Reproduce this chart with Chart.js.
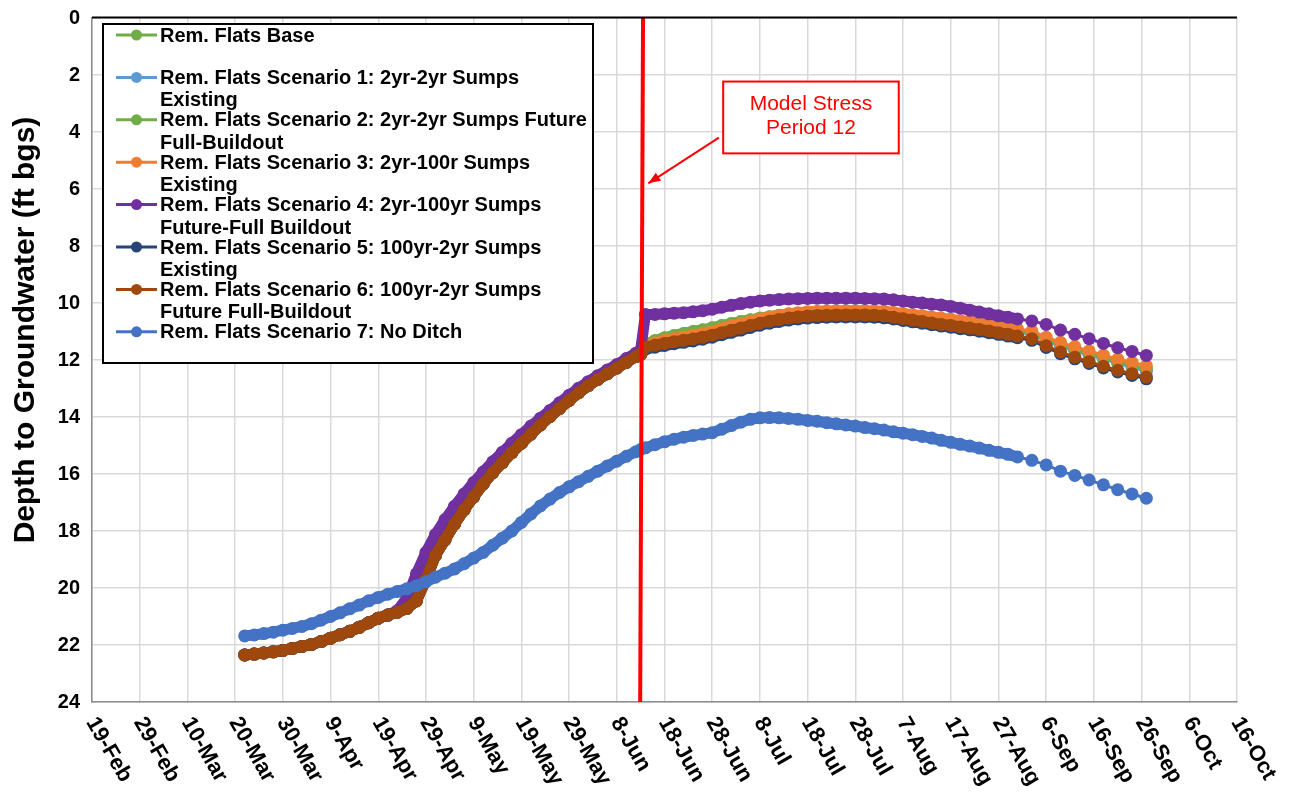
<!DOCTYPE html>
<html>
<head>
<meta charset="utf-8">
<script src="https://cdn.jsdelivr.net/npm/chart.js@4.4.1/dist/chart.umd.min.js"></script>
<style>
html,body{margin:0;padding:0;background:#fff;}
#wrap{width:1307px;height:796px;}
</style>
</head>
<body>
<div id="wrap"><canvas id="c" width="1307" height="796"></canvas></div>
<script>
// ---- DATA (x = days after 19-Feb-2020, y = depth to groundwater, ft bgs) ----
const xTickLabels = ['19-Feb','29-Feb','10-Mar','20-Mar','30-Mar','9-Apr','19-Apr','29-Apr','9-May','19-May','29-May','8-Jun','18-Jun','28-Jun','8-Jul','18-Jul','28-Jul','7-Aug','17-Aug','27-Aug','6-Sep','16-Sep','26-Sep','6-Oct','16-Oct'];
const yTickValues = [0,2,4,6,8,10,12,14,16,18,20,22,24];

const preDays = [32,34,36,38,40,42,44,46,48,50,52,54,56,58,60,62,64,66,68,70,72,74,76,78,80,82,84,86,88,90,92,94,96,98,100,102,104,106,108,110,112,114,115];
const postDays = [116,118,120,122,124,126,128,130,132,134,136,138,140,142,144,146,148,150,152,154,156,158,160,162,164,166,168,170,172,174,176,178,180,182,184,186,188,190,192,194,197,200,203,206,209,212,215,218,221];

// shared by Base, Scenarios 1,2,3,5,6 before the stress period (curves coincide)
const sharedPre = [22.35,22.32,22.28,22.24,22.19,22.12,22.05,21.98,21.88,21.76,21.64,21.52,21.38,21.22,21.06,20.95,20.85,20.72,20.45,19.7,18.85,18.3,17.75,17.25,16.8,16.35,15.95,15.6,15.25,14.92,14.6,14.28,13.98,13.7,13.42,13.15,12.9,12.68,12.48,12.28,12.08,11.88,11.8];
const s4Pre = [22.35,22.32,22.28,22.24,22.19,22.12,22.05,21.98,21.88,21.76,21.64,21.52,21.38,21.22,21.06,20.95,20.8,20.35,19.5,18.75,18.12,17.6,17.13,16.7,16.3,15.93,15.57,15.24,14.92,14.62,14.32,14.04,13.77,13.5,13.24,12.99,12.76,12.55,12.35,12.16,11.95,11.76,11.66];
const s7Pre = [21.68,21.65,21.6,21.55,21.48,21.42,21.35,21.25,21.13,21.0,20.87,20.73,20.6,20.45,20.33,20.22,20.12,20.03,19.92,19.78,19.62,19.48,19.33,19.15,18.95,18.75,18.5,18.25,18.0,17.7,17.4,17.12,16.88,16.65,16.45,16.27,16.08,15.9,15.72,15.55,15.38,15.22,15.14];

const basePost = [11.45,11.33,11.23,11.15,11.08,11.01,10.95,10.88,10.8,10.73,10.66,10.6,10.54,10.49,10.44,10.4,10.37,10.35,10.33,10.32,10.31,10.31,10.31,10.31,10.32,10.34,10.38,10.42,10.46,10.5,10.54,10.59,10.63,10.68,10.73,10.78,10.83,10.88,10.93,10.98,11.06,11.28,11.47,11.63,11.78,11.93,12.07,12.2,12.33];
const s1Post = [11.5,11.38,11.28,11.2,11.13,11.06,11.0,10.93,10.85,10.78,10.71,10.65,10.59,10.54,10.49,10.45,10.42,10.4,10.38,10.37,10.36,10.36,10.36,10.36,10.37,10.39,10.43,10.47,10.51,10.55,10.59,10.64,10.68,10.73,10.78,10.83,10.88,10.93,10.98,11.03,11.11,11.33,11.52,11.68,11.83,11.98,12.12,12.26,12.4];
const s2Post = [11.44,11.32,11.22,11.14,11.07,11.0,10.94,10.87,10.79,10.72,10.65,10.59,10.53,10.48,10.43,10.39,10.36,10.34,10.32,10.31,10.3,10.3,10.3,10.3,10.31,10.33,10.37,10.41,10.45,10.49,10.53,10.58,10.62,10.67,10.72,10.77,10.82,10.87,10.92,10.97,11.05,11.27,11.46,11.62,11.77,11.92,12.06,12.19,12.32];
const s3Post = [11.5,11.4,11.32,11.25,11.19,11.13,11.07,11.0,10.9,10.81,10.73,10.64,10.56,10.49,10.43,10.38,10.34,10.31,10.29,10.28,10.27,10.27,10.27,10.27,10.28,10.29,10.33,10.37,10.41,10.45,10.49,10.53,10.57,10.62,10.66,10.71,10.76,10.81,10.86,10.91,10.98,11.2,11.38,11.53,11.68,11.83,11.97,12.08,12.2];
const s4Post = [10.4,10.4,10.38,10.36,10.34,10.31,10.27,10.22,10.15,10.08,10.02,9.97,9.93,9.9,9.88,9.86,9.85,9.84,9.83,9.83,9.83,9.83,9.83,9.84,9.85,9.86,9.89,9.93,9.97,10.0,10.04,10.07,10.12,10.18,10.25,10.32,10.38,10.45,10.5,10.56,10.63,10.75,10.95,11.1,11.25,11.42,11.57,11.7,11.84];
const s5Post = [11.62,11.55,11.49,11.43,11.38,11.33,11.27,11.2,11.11,11.03,10.95,10.86,10.78,10.71,10.65,10.6,10.56,10.53,10.51,10.5,10.49,10.49,10.49,10.49,10.5,10.52,10.56,10.61,10.66,10.71,10.76,10.81,10.85,10.9,10.94,10.99,11.04,11.1,11.16,11.22,11.31,11.56,11.78,11.96,12.12,12.28,12.42,12.54,12.66];
const s6Post = [11.55,11.48,11.42,11.36,11.31,11.26,11.2,11.13,11.04,10.96,10.88,10.79,10.71,10.64,10.58,10.53,10.49,10.46,10.44,10.43,10.42,10.42,10.42,10.42,10.43,10.45,10.5,10.55,10.6,10.65,10.7,10.75,10.79,10.84,10.88,10.93,10.98,11.04,11.1,11.16,11.25,11.5,11.72,11.9,12.06,12.22,12.36,12.48,12.6];
const s7Post = [15.08,14.97,14.87,14.78,14.71,14.65,14.6,14.55,14.43,14.3,14.18,14.08,14.03,14.02,14.03,14.05,14.08,14.12,14.15,14.2,14.24,14.28,14.32,14.37,14.41,14.46,14.52,14.57,14.62,14.68,14.74,14.82,14.89,14.96,15.02,15.09,15.17,15.24,15.31,15.4,15.52,15.68,15.9,16.05,16.21,16.38,16.55,16.7,16.85];

// Model stress period 12 marker line (days) and its annotation
const stressLineDays = [115.5, 114.9];
const stressLineDepths = [0, 24];
const annotationLines = ['Model Stress', 'Period 12'];

const seriesNames = [
  ['Rem. Flats Base', ''],
  ['Rem. Flats Scenario 1: 2yr-2yr Sumps', 'Existing'],
  ['Rem. Flats Scenario 2: 2yr-2yr Sumps Future', 'Full-Buildout'],
  ['Rem. Flats Scenario 3: 2yr-100r Sumps', 'Existing'],
  ['Rem. Flats Scenario 4: 2yr-100yr Sumps', 'Future-Full Buildout'],
  ['Rem. Flats Scenario 5: 100yr-2yr Sumps', 'Existing'],
  ['Rem. Flats Scenario 6: 100yr-2yr Sumps', 'Future Full-Buildout'],
  ['Rem. Flats Scenario 7: No Ditch', '']
];
const seriesColors = ['#70AD47','#5B9BD5','#70AD47','#ED7D31','#7030A0','#264478','#9E480E','#4472C4'];

// ---- build ----
const allDays = preDays.concat(postDays);
function pts(vals){ return allDays.map((d,i)=>({x:d, y:vals[i]})); }
const seriesValues = [
  sharedPre.concat(basePost),
  sharedPre.concat(s1Post),
  sharedPre.concat(s2Post),
  sharedPre.concat(s3Post),
  s4Pre.concat(s4Post),
  sharedPre.concat(s5Post),
  sharedPre.concat(s6Post),
  s7Pre.concat(s7Post)
];

const FONT = '"Liberation Sans", Arial, Helvetica, sans-serif';

const datasets = seriesValues.map((v,i)=>({
  label: seriesNames[i].join(' '),
  data: pts(v),
  borderColor: seriesColors[i],
  backgroundColor: seriesColors[i],
  borderWidth: 11,
  borderJoinStyle: 'round',
  borderCapStyle: 'round',
  segment: { borderWidth: c => (c.p0.parsed.x >= 194 ? 3 : 11) },
  pointRadius: 6.5,
  pointBorderWidth: 0,
  pointHoverRadius: 6.5,
  tension: 0,
  order: 9 - i
}));
datasets.push({
  label: 'stress',
  data: stressLineDays.map((d,i)=>({x:d, y:stressLineDepths[i]})),
  borderColor: '#FF0000',
  borderWidth: 4,
  pointRadius: 0,
  order: 0
});

const overlay = {
  id: 'overlay',
  afterDraw(chart){
    const ctx = chart.ctx;
    const xs = chart.scales.x, ys = chart.scales.y;
    const area = chart.chartArea;
    ctx.save();
    // top border of plot
    ctx.strokeStyle = '#000';
    ctx.lineWidth = 2;
    ctx.beginPath(); ctx.moveTo(area.left, area.top - 0.5); ctx.lineTo(area.right, area.top - 0.5); ctx.stroke();

    // x tick labels (rotated clockwise)
    ctx.fillStyle = '#000';
    ctx.font = 'bold 22px ' + FONT;
    ctx.textAlign = 'left';
    ctx.textBaseline = 'middle';
    xTickLabels.forEach((lab, i)=>{
      const px = xs.getPixelForValue(i*10);
      ctx.save();
      ctx.translate(px - 1, area.bottom + 17);
      ctx.rotate(60 * Math.PI/180);
      ctx.fillText(lab, 0, 0);
      ctx.restore();
    });

    // y axis title
    ctx.save();
    ctx.translate(26, 330);
    ctx.rotate(-Math.PI/2);
    ctx.textAlign = 'center';
    ctx.textBaseline = 'middle';
    ctx.font = 'bold 30px ' + FONT;
    ctx.fillText('Depth to Groundwater (ft bgs)', 0, 0);
    ctx.restore();

    // annotation box + arrow (data-anchored)
    const bx1 = xs.getPixelForValue(132.3), bx2 = xs.getPixelForValue(169.1);
    const by1 = ys.getPixelForValue(2.23), by2 = ys.getPixelForValue(4.75);
    ctx.fillStyle = '#fff';
    ctx.fillRect(bx1, by1, bx2-bx1, by2-by1);
    ctx.strokeStyle = '#FF0000';
    ctx.lineWidth = 2;
    ctx.strokeRect(bx1, by1, bx2-bx1, by2-by1);
    ctx.fillStyle = '#FF0000';
    ctx.font = '21px ' + FONT;
    ctx.textAlign = 'center';
    ctx.textBaseline = 'middle';
    ctx.fillText(annotationLines[0], (bx1+bx2)/2, by1 + 23);
    ctx.fillText(annotationLines[1], (bx1+bx2)/2, by1 + 47);
    const ax1 = xs.getPixelForValue(131.4), ay1 = ys.getPixelForValue(4.2);
    const ax2 = xs.getPixelForValue(116.6), ay2 = ys.getPixelForValue(5.8);
    ctx.beginPath(); ctx.moveTo(ax1, ay1); ctx.lineTo(ax2, ay2); ctx.stroke();
    const ang = Math.atan2(ay2-ay1, ax2-ax1);
    ctx.beginPath();
    ctx.moveTo(ax2, ay2);
    ctx.lineTo(ax2 - 13*Math.cos(ang - 0.38), ay2 - 13*Math.sin(ang - 0.38));
    ctx.lineTo(ax2 - 13*Math.cos(ang + 0.38), ay2 - 13*Math.sin(ang + 0.38));
    ctx.closePath(); ctx.fill();

    // legend
    const lx1 = 103, ly1 = 24, lx2 = 593, ly2 = 363;
    ctx.fillStyle = '#fff';
    ctx.fillRect(lx1, ly1, lx2-lx1, ly2-ly1);
    ctx.strokeStyle = '#000';
    ctx.lineWidth = 2;
    ctx.strokeRect(lx1, ly1, lx2-lx1, ly2-ly1);
    ctx.font = 'bold 20px ' + FONT;
    ctx.textAlign = 'left';
    ctx.textBaseline = 'middle';
    seriesNames.forEach((nm, i)=>{
      const y = 35 + 42.4*i;
      ctx.strokeStyle = seriesColors[i];
      ctx.fillStyle = seriesColors[i];
      ctx.lineWidth = 3;
      ctx.beginPath(); ctx.moveTo(116, y); ctx.lineTo(157, y); ctx.stroke();
      ctx.beginPath(); ctx.arc(136.5, y, 5.5, 0, Math.PI*2); ctx.fill();
      ctx.fillStyle = '#000';
      ctx.fillText(nm[0], 160, y + 1);
      if (nm[1]) ctx.fillText(nm[1], 160, y + 23.5);
    });
    ctx.restore();
  }
};

new Chart(document.getElementById('c'), {
  type: 'line',
  data: { datasets },
  options: {
    responsive: false,
    animation: false,
    devicePixelRatio: 1,
    layout: { padding: { left: 0, top: 18, right: 70, bottom: 94 } },
    plugins: { legend: { display: false }, tooltip: { enabled: false } },
    scales: {
      x: {
        type: 'linear', min: 0, max: 240,
        ticks: { stepSize: 10, display: false },
        grid: { color: '#d9d9d9', lineWidth: 1.5, drawTicks: false },
        border: { display: true, color: '#8c8c8c', width: 1.5 },
        afterFit(s){ s.height = 0; s.paddingLeft = 0; s.paddingRight = 0; }
      },
      y: {
        type: 'linear', reverse: true, min: 0, max: 24,
        afterBuildTicks(s){ s.ticks = yTickValues.map(v=>({value:v})); },
        ticks: { color: '#000', padding: 12, font: { family: FONT, size: 20, weight: 'bold' } },
        grid: { color: '#d9d9d9', lineWidth: 1.5, drawTicks: false },
        border: { display: true, color: '#8c8c8c', width: 1.5 },
        afterFit(s){ s.width = 92; s.paddingTop = 0; s.paddingBottom = 0; }
      }
    }
  },
  plugins: [overlay]
});
</script>
</body>
</html>
